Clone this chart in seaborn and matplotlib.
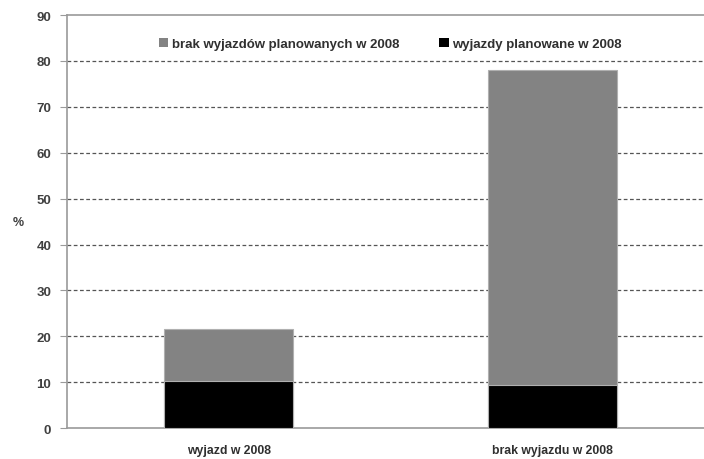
import matplotlib.pyplot as plt
import seaborn as sns
import pandas as pd
import numpy as np
from matplotlib.patches import Patch

# dane (%)
categories = ['wyjazd w 2008', 'brak wyjazdu w 2008']
planned = [10.2, 9.4]          # wyjazdy planowane w 2008
not_planned = [11.5, 68.6]     # brak wyjazdów planowanych w 2008
legend_labels = ['brak wyjazdów planowanych w 2008', 'wyjazdy planowane w 2008']

sns.set_style('white')
plt.rcParams['font.family'] = ['Liberation Sans', 'DejaVu Sans']
plt.rcParams['font.weight'] = 'bold'

df = pd.DataFrame({'kat': categories,
                   'planned': planned,
                   'total': np.array(planned) + np.array(not_planned)})

fig = plt.figure(figsize=(7.04, 4.6), dpi=100)
ax = fig.add_axes([0.0945, 0.067, 0.9205, 0.898])

grey = '#838383'
sns.barplot(data=df, x='kat', y='total', color=grey, width=0.4,
            edgecolor='#b0b0b0', linewidth=0.8, saturation=1, ax=ax, zorder=3)
sns.barplot(data=df, x='kat', y='planned', color='black', width=0.4,
            edgecolor='#b0b0b0', linewidth=0.8, saturation=1, ax=ax, zorder=4)

ax.set_xlim(-0.5, 1.5)
ax.set_ylim(0, 90)
ax.set_yticks(range(0, 91, 10))
for y in range(10, 90, 10):
    ax.axhline(y, color='#555555', linestyle=(0, (3, 2)), linewidth=0.9, zorder=1)

for side in ['left', 'bottom', 'top']:
    ax.spines[side].set_color('#9a9a9a')
    ax.spines[side].set_linewidth(1.2)
ax.spines['right'].set_visible(False)

ax.tick_params(axis='y', left=True, length=5, color='#9a9a9a', labelsize=9.5,
               labelcolor='#404040', pad=6)
ax.tick_params(axis='x', bottom=False, labelsize=8.8, labelcolor='#303030', pad=8)

ax.set_xlabel('')
ax.set_ylabel('%', rotation=0, fontsize=9, fontweight='bold', color='#404040',
              va='center')
ax.yaxis.set_label_coords(-0.075, 0.5)

handles = [Patch(facecolor=grey, edgecolor='none'), Patch(facecolor='black', edgecolor='none')]
leg = ax.legend(handles, legend_labels, loc='center', bbox_to_anchor=(0.5, 0.93),
                ncol=2, frameon=False, handlelength=0.7, handleheight=0.7,
                handletextpad=0.3, columnspacing=3.0,
                prop={'family': 'Liberation Sans', 'size': 9.5, 'weight': 'bold'})
for t in leg.get_texts():
    t.set_color('#303030')

fig.savefig('out.png', dpi=100)
